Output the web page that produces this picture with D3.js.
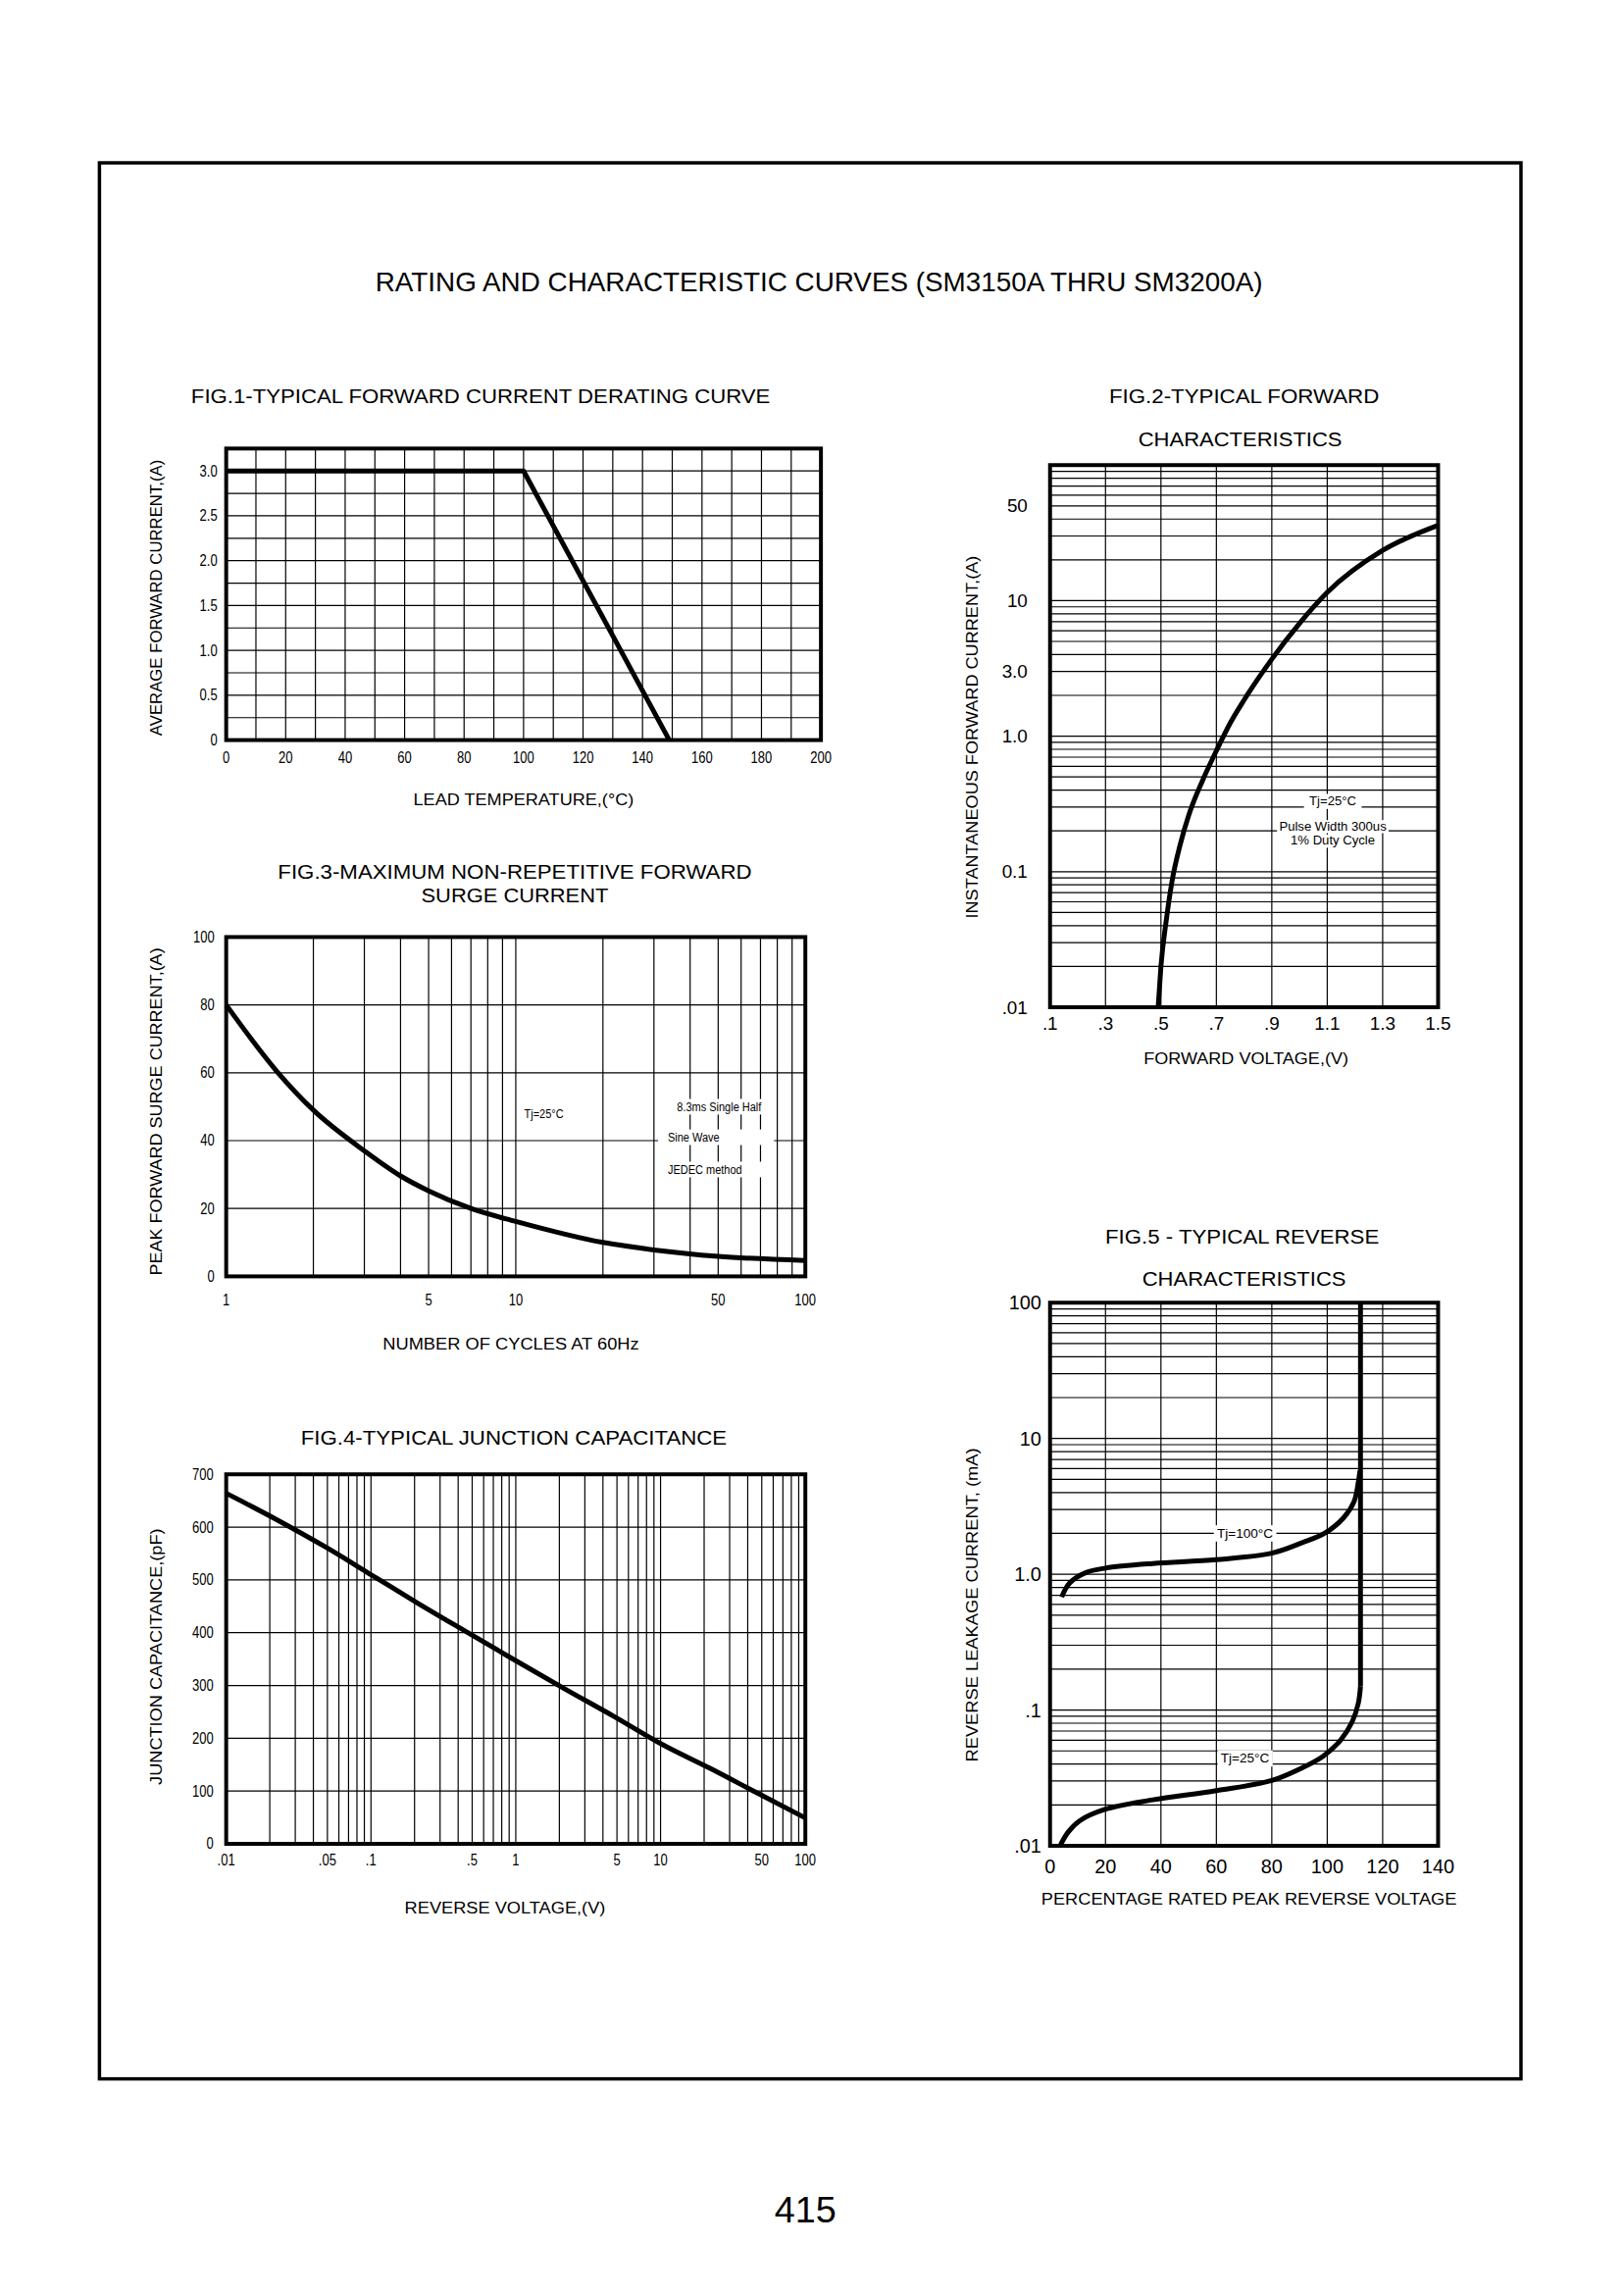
<!DOCTYPE html>
<html><head><meta charset="utf-8">
<script src="https://cdn.jsdelivr.net/npm/d3@7"></script>
<style>
body{margin:0;background:#fff}
svg{display:block}
text{font-family:'Liberation Sans',Arial,Helvetica,sans-serif;fill:#000}
</style>
</head><body>
<svg id="c" width="1656" height="2339"></svg>
<script>
// ---------------- DATA ----------------
// Fig.1 derating curve
const fig1Temp = [0, 100, 149];
const fig1Current = [3.0, 3.0, 0];
const fig1XTicks = [0, 20, 40, 60, 80, 100, 120, 140, 160, 180, 200];
const fig1YTicks = [0, 0.5, 1.0, 1.5, 2.0, 2.5, 3.0];
const fig1YLabels = ["0", "0.5", "1.0", "1.5", "2.0", "2.5", "3.0"];

// Fig.2 forward characteristics
const fig2Voltage = [0.49, 0.50, 0.52, 0.54, 0.57, 0.60, 0.65, 0.70, 0.75, 0.80, 0.90, 1.00, 1.10, 1.30, 1.50];
const fig2Current = [0.01, 0.02, 0.045, 0.085, 0.16, 0.26, 0.47, 0.78, 1.25, 1.85, 3.7, 6.8, 11.5, 23.5, 36];
const fig2XTicks = [0.1, 0.3, 0.5, 0.7, 0.9, 1.1, 1.3, 1.5];
const fig2XLabels = [".1", ".3", ".5", ".7", ".9", "1.1", "1.3", "1.5"];
const fig2YTicks = [50, 10, 3, 1, 0.1, 0.01];
const fig2YLabels = ["50", "10", "3.0", "1.0", "0.1", ".01"];

// Fig.3 surge current
const fig3Cycles = [1, 1.5, 2, 3, 4, 5, 7, 10, 20, 30, 50, 100];
const fig3Surge = [80, 60.3, 49, 37, 29.6, 25.2, 20, 16.2, 10, 7.8, 5.9, 4.7];
const fig3XTicks = [1, 5, 10, 50, 100];
const fig3XLabels = ["1", "5", "10", "50", "100"];
const fig3YTicks = [0, 20, 40, 60, 80, 100];

// Fig.4 junction capacitance
const fig4Voltage = [0.01, 0.022, 0.048, 0.1, 0.21, 0.46, 1, 2.2, 4.8, 10, 22, 46, 100];
const fig4Cap = [664, 615, 563, 510, 456, 401, 347, 293, 241, 190, 143, 97, 49];
const fig4XTicks = [0.01, 0.05, 0.1, 0.5, 1, 5, 10, 50, 100];
const fig4XLabels = [".01", ".05", ".1", ".5", "1", "5", "10", "50", "100"];
const fig4YTicks = [0, 100, 200, 300, 400, 500, 600, 700];

// Fig.5 reverse characteristics
const fig5Pct100 = [4.2, 7, 13, 20, 37, 60, 80, 91, 99, 106, 109.7, 111.3, 111.8];
const fig5I100 = [0.68, 0.86, 1.03, 1.11, 1.2, 1.28, 1.43, 1.71, 2.0, 2.62, 3.44, 4.9, 5.8];
const fig5Pct25 = [3.6, 6.5, 10.7, 20, 37, 60, 80, 91, 98.5, 104.8, 109, 111.2, 112, 112];
const fig5I25 = [0.01, 0.0126, 0.0153, 0.0186, 0.0218, 0.0255, 0.0303, 0.0376, 0.0457, 0.06, 0.082, 0.112, 0.15, 100];
const fig5XTicks = [0, 20, 40, 60, 80, 100, 120, 140];
const fig5YTicks = [100, 10, 1, 0.1, 0.01];
const fig5YLabels = ["100", "10", "1.0", ".1", ".01"];

// ---------------- DRAWING ----------------
const svg0 = d3.select('#c');
svg0.append('rect').attr('width', 1656).attr('height', 2339).attr('fill', '#fff');
const svg = svg0.append('g').attr('transform', 'scale(0.9942)');
svg.append('rect').attr('x', 102).attr('y', 167).attr('width', 1458).attr('height', 1965)
  .attr('fill', 'none').attr('stroke', '#000').attr('stroke-width', 3.5);

function txt(g, x, y, s, o) {
  o = o || {};
  const t = g.append('text').attr('x', x).attr('y', y).text(s)
    .attr('font-size', o.size || 16)
    .attr('text-anchor', o.anchor || 'middle')
    .attr('dominant-baseline', 'central');
  if (o.len) t.attr('textLength', o.len).attr('lengthAdjust', 'spacingAndGlyphs');
  let tr = '';
  if (o.rot) tr += `rotate(-90 ${x} ${y}) `;
  if (o.sx) tr += `translate(${x},${y}) scale(${o.sx},1) translate(${-x},${-y})`;
  if (tr) t.attr('transform', tr);
  return t;
}

function note(g, x, y, s, size, sx, anchor, padX, padY) {
  const gg = g.append('g').attr('transform', `translate(${x},${y}) scale(${sx},1)`);
  const t = gg.append('text').attr('x', 0).attr('y', 0).attr('font-size', size)
    .attr('text-anchor', anchor || 'middle').attr('dominant-baseline', 'central').text(s);
  const b = t.node().getBBox();
  const px = padX == null ? 4 : padX, py = padY == null ? 1 : padY;
  gg.insert('rect', 'text').attr('x', b.x - px).attr('y', b.y - py)
    .attr('width', b.width + 2 * px).attr('height', b.height + 2 * py).attr('fill', '#fff');
}

function logGrid(lo, hi) {
  const out = [];
  for (let e = Math.round(Math.log10(lo)); e < Math.round(Math.log10(hi)); e++) {
    for (let m = 1; m < 10; m++) out.push(m * Math.pow(10, e));
  }
  out.push(hi);
  return out;
}

function panel(c) {
  const g = svg.append('g');
  const x = c.xScale.range([c.x0, c.x1]);
  const y = c.yScale.range([c.y1, c.y0]);
  g.append('g').selectAll('line').data(c.xGrid).join('line')
    .attr('x1', d => x(d)).attr('x2', d => x(d)).attr('y1', c.y0).attr('y2', c.y1)
    .attr('stroke', '#000').attr('stroke-width', 1.2);
  g.append('g').selectAll('line').data(c.yGrid).join('line')
    .attr('y1', d => y(d)).attr('y2', d => y(d)).attr('x1', c.x0).attr('x2', c.x1)
    .attr('stroke', '#000').attr('stroke-width', 1.2);
  const ann = g.append('g');
  const curves = g.append('g');
  g.append('rect').attr('x', c.x0).attr('y', c.y0).attr('width', c.x1 - c.x0).attr('height', c.y1 - c.y0)
    .attr('fill', 'none').attr('stroke', '#000').attr('stroke-width', 4);
  return { g, x, y, ann, curves };
}

function drawCurve(p, xs, ys, curve, w) {
  const pts = xs.map((v, i) => [v, ys[i]]);
  const line = d3.line().x(d => p.x(d[0])).y(d => p.y(d[1])).curve(curve || d3.curveLinear);
  p.curves.append('path').attr('d', line(pts)).attr('fill', 'none').attr('stroke', '#000')
    .attr('stroke-width', w || 4.5).attr('stroke-linejoin', 'round').attr('stroke-linecap', 'butt');
}

// Main title
txt(svg, 840, 290, 'RATING AND CHARACTERISTIC CURVES (SM3150A THRU SM3200A)', { size: 27, len: 910 });

// ---------- Fig.1 ----------
{
  const c = { x0: 232, x1: 842, y0: 460, y1: 759,
    xScale: d3.scaleLinear().domain([0, 200]), yScale: d3.scaleLinear().domain([0, 3.25]),
    xGrid: d3.range(0, 201, 10), yGrid: d3.range(0, 3.26, 0.25) };
  const p = panel(c);
  drawCurve(p, fig1Temp, fig1Current, d3.curveLinear, 5);
  txt(svg, 493, 406, 'FIG.1-TYPICAL FORWARD CURRENT DERATING CURVE', { size: 21, len: 594 });
  fig1XTicks.forEach(v => txt(svg, p.x(v), 777, String(v), { size: 16, sx: 0.82 }));
  fig1YTicks.forEach((v, i) => txt(svg, 223, p.y(v), fig1YLabels[i], { size: 16, sx: 0.82, anchor: 'end' }));
  txt(svg, 537, 820, 'LEAD TEMPERATURE,(°C)', { size: 17, len: 226 });
  txt(svg, 160, 613, 'AVERAGE FORWARD CURRENT,(A)', { size: 16, len: 283, rot: true });
}

// ---------- Fig.2 ----------
{
  const c = { x0: 1077, x1: 1475, y0: 477, y1: 1033,
    xScale: d3.scaleLinear().domain([0.1, 1.5]), yScale: d3.scaleLog().domain([0.01, 100]),
    xGrid: fig2XTicks, yGrid: logGrid(0.01, 100) };
  const p = panel(c);
  note(p.ann, p.x(1.12), p.y(0.33), 'Tj=25°C', 12, 1.1, 'middle', 5, 1);
  note(p.ann, p.x(1.12), p.y(0.215), 'Pulse Width 300us', 12, 1.1, 'middle', 2, 0);
  note(p.ann, p.x(1.12), p.y(0.168), '1% Duty Cycle', 12, 1.1, 'middle', 2, 0);
  drawCurve(p, fig2Voltage, fig2Current, d3.curveMonotoneX, 5);
  txt(svg, 1276, 406, 'FIG.2-TYPICAL FORWARD', { size: 20, len: 277 });
  txt(svg, 1272, 451, 'CHARACTERISTICS', { size: 20, len: 209 });
  fig2XTicks.forEach((v, i) => txt(svg, p.x(v), 1050, fig2XLabels[i], { size: 19 }));
  fig2YTicks.forEach((v, i) => txt(svg, 1054, p.y(v), fig2YLabels[i], { size: 19, anchor: 'end' }));
  txt(svg, 1278, 1086, 'FORWARD VOLTAGE,(V)', { size: 16, len: 210 });
  txt(svg, 997, 756, 'INSTANTANEOUS FORWARD CURRENT,(A)', { size: 17, len: 372, rot: true });
}

// ---------- Fig.3 ----------
{
  const c = { x0: 232, x1: 826, y0: 961, y1: 1309,
    xScale: d3.scaleLog().domain([1, 100]), yScale: d3.scaleLinear().domain([0, 100]),
    xGrid: logGrid(1, 100), yGrid: fig3YTicks };
  const p = panel(c);
  note(p.ann, p.x(12.5), p.y(48), 'Tj=25°C', 13, 0.85, 'middle', 3, 1);
  [50, 41, 31.5].forEach(v => {
    p.ann.append('rect').attr('x', p.x(31)).attr('y', p.y(v) - 8)
      .attr('width', p.x(78) - p.x(31)).attr('height', 16).attr('fill', '#fff');
  });
  txt(p.ann, p.x(50.4), p.y(50), '8.3ms Single Half', { size: 13, sx: 0.85 });
  txt(p.ann, p.x(33.5), p.y(41), 'Sine Wave', { size: 13, sx: 0.85, anchor: 'start' });
  txt(p.ann, p.x(33.5), p.y(31.5), 'JEDEC method', { size: 13, sx: 0.85, anchor: 'start' });
  drawCurve(p, fig3Cycles, fig3Surge, d3.curveMonotoneX, 5);
  txt(svg, 528, 894, 'FIG.3-MAXIMUM NON-REPETITIVE FORWARD', { size: 21, len: 486 });
  txt(svg, 528, 918, 'SURGE CURRENT', { size: 21, len: 192 });
  fig3XTicks.forEach((v, i) => txt(svg, p.x(v), 1333, fig3XLabels[i], { size: 16, sx: 0.82 }));
  fig3YTicks.forEach(v => txt(svg, 220, p.y(v), String(v), { size: 16, sx: 0.82, anchor: 'end' }));
  txt(svg, 524, 1378, 'NUMBER OF CYCLES AT 60Hz', { size: 17, len: 263 });
  txt(svg, 160, 1140, 'PEAK FORWARD SURGE CURRENT,(A)', { size: 17, len: 336, rot: true });
}

// ---------- Fig.4 ----------
{
  const c = { x0: 232, x1: 826, y0: 1512, y1: 1891,
    xScale: d3.scaleLog().domain([0.01, 100]), yScale: d3.scaleLinear().domain([0, 700]),
    xGrid: logGrid(0.01, 100), yGrid: fig4YTicks };
  const p = panel(c);
  drawCurve(p, fig4Voltage, fig4Cap, d3.curveMonotoneX, 5);
  txt(svg, 527, 1474, 'FIG.4-TYPICAL JUNCTION CAPACITANCE', { size: 21, len: 437 });
  fig4XTicks.forEach((v, i) => txt(svg, p.x(v), 1908, fig4XLabels[i], { size: 16, sx: 0.82 }));
  fig4YTicks.forEach(v => txt(svg, 219, p.y(v), String(v), { size: 16, sx: 0.82, anchor: 'end' }));
  txt(svg, 518, 1957, 'REVERSE VOLTAGE,(V)', { size: 17, len: 206 });
  txt(svg, 160, 1699, 'JUNCTION CAPACITANCE,(pF)', { size: 17, len: 263, rot: true });
}

// ---------- Fig.5 ----------
{
  const c = { x0: 1077, x1: 1475, y0: 1336, y1: 1893,
    xScale: d3.scaleLinear().domain([0, 140]), yScale: d3.scaleLog().domain([0.01, 100]),
    xGrid: fig5XTicks, yGrid: logGrid(0.01, 100) };
  const p = panel(c);
  note(p.ann, p.x(70.3), p.y(2.0), 'Tj=100°C', 13, 1.05, 'middle', 3, 1);
  note(p.ann, p.x(70.3), p.y(0.044), 'Tj=25°C', 13, 1.05, 'middle', 3, 1);
  drawCurve(p, fig5Pct100, fig5I100, d3.curveCatmullRom.alpha(0.5), 5);
  const n = fig5Pct25.length;
  drawCurve(p, fig5Pct25.slice(0, n - 1), fig5I25.slice(0, n - 1), d3.curveCatmullRom.alpha(0.5), 5);
  drawCurve(p, fig5Pct25.slice(n - 2), fig5I25.slice(n - 2), d3.curveLinear, 5);
  txt(svg, 1274, 1268, 'FIG.5 - TYPICAL REVERSE', { size: 20, len: 281 });
  txt(svg, 1276, 1312, 'CHARACTERISTICS', { size: 20, len: 209 });
  fig5XTicks.forEach(v => txt(svg, p.x(v), 1914, String(v), { size: 20 }));
  fig5YTicks.forEach((v, i) => txt(svg, 1068, p.y(v), fig5YLabels[i], { size: 20, anchor: 'end' }));
  txt(svg, 1281, 1948, 'PERCENTAGE RATED PEAK REVERSE VOLTAGE', { size: 17, len: 426 });
  txt(svg, 997, 1646, 'REVERSE LEAKAGE CURRENT, (mA)', { size: 17, len: 322, rot: true });
}

// Page number
txt(svg, 826, 2266, '415', { size: 38 });
</script>
</body></html>
